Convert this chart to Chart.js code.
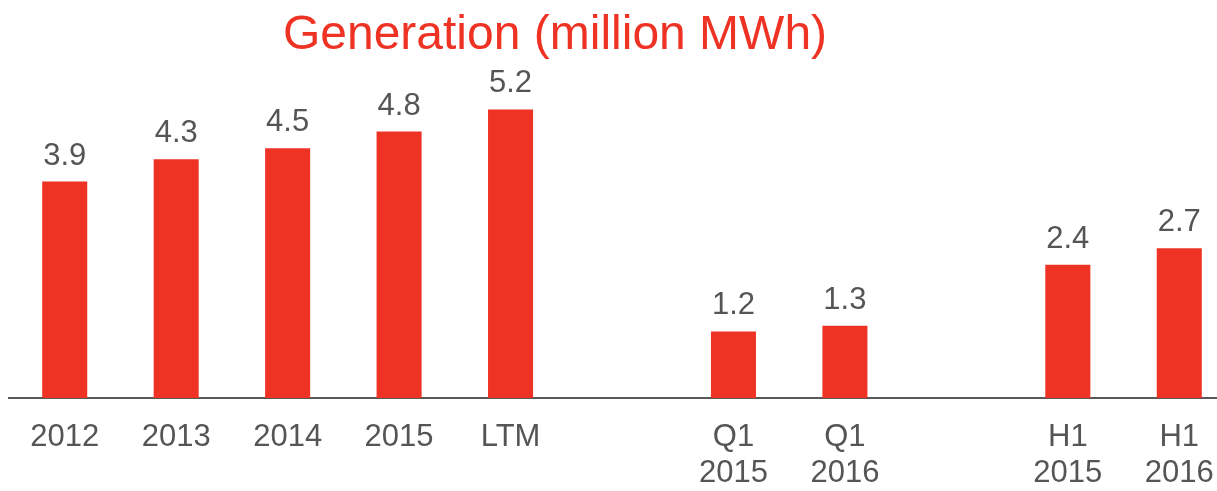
<!DOCTYPE html>
<html>
<head>
<meta charset="utf-8">
<script src="https://cdn.jsdelivr.net/npm/chart.js@4"></script>
<style>
  html, body { margin: 0; padding: 0; background: #fff; overflow: hidden; }
  #clip { width: 1217px; height: 491px; overflow: hidden; }
  #box { width: 1235px; height: 491px; }
</style>
</head>
<body>
<div id="clip"><div id="box"><canvas id="myChart"></canvas></div></div>
<script>
const categories = ['2012', '2013', '2014', '2015', 'LTM', '', ['Q1', '2015'], ['Q1', '2016'], '', ['H1', '2015'], ['H1', '2016']];
const generation = [3.9, 4.3, 4.5, 4.8, 5.2, null, 1.2, 1.3, null, 2.4, 2.7];
const titleText = 'Generation (million MWh)';

const red = '#EE3224';
const grey = '#555555';
const fontFamily = 'Liberation Sans, Arial, sans-serif';

// title sits left of the canvas centre, so it is drawn by hand
const titlePlugin = {
  id: 'titleText',
  afterDraw(chart) {
    const c = chart.ctx;
    c.save();
    c.font = '48px ' + fontFamily;
    c.fillStyle = red;
    c.textAlign = 'center';
    c.textBaseline = 'alphabetic';
    c.fillText(titleText, 555, 49);
    c.restore();
  },
};

const valueLabels = {
  id: 'valueLabels',
  afterDatasetsDraw(chart) {
    const c = chart.ctx;
    const meta = chart.getDatasetMeta(0);
    c.save();
    c.font = '31px ' + fontFamily;
    c.fillStyle = grey;
    c.textAlign = 'center';
    c.textBaseline = 'alphabetic';
    meta.data.forEach((bar, i) => {
      const v = generation[i];
      if (v == null) return;
      c.fillText(v.toFixed(1), bar.x, bar.y - 17);
    });
    c.restore();
  },
};

var ctx = document.getElementById('myChart').getContext('2d');
var chart = new Chart(ctx, {
  type: 'bar',
  data: {
    labels: categories,
    datasets: [
      {
        data: generation,
        backgroundColor: red,
        borderWidth: 0,
        categoryPercentage: 1,
        barPercentage: 0.404,
      },
    ],
  },
  options: {
    responsive: true,
    maintainAspectRatio: false,
    animation: false,
    layout: { padding: { top: 65, left: 9, right: 0, bottom: 0 } },
    plugins: {
      legend: { display: false },
      title: { display: false },
      tooltip: { enabled: false },
    },
    scales: {
      x: {
        grid: { display: false, drawTicks: false },
        border: { display: true, color: '#595959', width: 2 },
        ticks: {
          color: grey,
          padding: 21,
          maxRotation: 0,
          autoSkip: false,
          font: { family: fontFamily, size: 31, lineHeight: 1.17 },
        },
        afterFit(scale) { scale.height = 93; },
      },
      y: {
        display: false,
        min: 0,
        max: 6,
      },
    },
  },
  plugins: [titlePlugin, valueLabels],
});
</script>
</body>
</html>
